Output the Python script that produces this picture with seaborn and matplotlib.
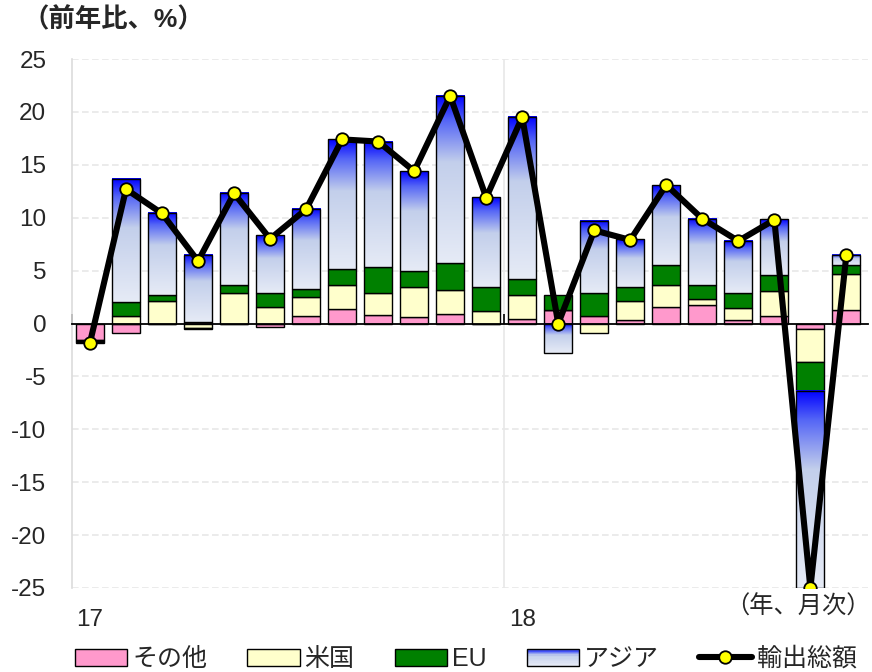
import numpy as np
import pandas as pd
import matplotlib
matplotlib.use("Agg")
import matplotlib.pyplot as plt
import seaborn as sns
from matplotlib.colors import LinearSegmentedColormap
from matplotlib.patches import Rectangle, Patch
from matplotlib.lines import Line2D
from matplotlib.legend_handler import HandlerBase

# ---- data ----
months = list(range(22))  # 2017-01 .. 2018-10
year_labels = ["17", "18"]
year_pos = [0, 12]
other = [-1.6, -0.88, 0.0, 0.1, 0.0, -0.3, 0.75, 1.35, 0.8, 0.57, 0.92, 0.0,
         0.38, 1.32, 0.75, 0.35, 1.57, 1.72, 0.35, 0.75, -0.5, 1.29]
us = [-0.1, 0.75, 2.1, -0.4, 2.87, 1.57, 1.73, 2.27, 2.07, 2.87, 2.29, 1.16,
      2.27, 0.0, -0.88, 1.82, 2.03, 0.57, 1.16, 2.3, -3.1, 3.4]
eu = [-0.05, 1.25, 0.55, -0.15, 0.73, 1.36, 0.76, 1.55, 2.46, 1.51, 2.49, 2.28,
      1.51, 1.38, 2.15, 1.27, 1.95, 1.31, 1.36, 1.49, -2.74, 0.85]
asia = [-0.05, 11.67, 7.81, 6.34, 8.73, 5.48, 7.6, 12.23, 11.87, 9.45, 15.85, 8.48,
        15.34, -2.77, 6.82, 4.5, 7.51, 6.28, 4.93, 5.29, -18.65, 0.98]
total = [-1.8, 12.7, 10.4, 5.9, 12.3, 8.0, 10.8, 17.4, 17.2, 14.4, 21.5, 11.9,
         19.5, 0.0, 8.8, 7.9, 13.1, 9.9, 7.8, 9.8, -25.0, 6.5]
series_names = ["その他", "米国", "EU", "アジア"]
line_name = "輸出総額"
yticks = [-25, -20, -15, -10, -5, 0, 5, 10, 15, 20, 25]

sns.set_theme(style="white")
plt.rcParams["font.family"] = ["Liberation Sans", "Noto Sans CJK JP", "DejaVu Sans"]
plt.rcParams["axes.unicode_minus"] = False

fig = plt.figure(figsize=(8.72, 6.72), dpi=100)
ax = fig.add_axes([72 / 872, 84 / 672, 796 / 872, 529 / 672])

cmap = LinearSegmentedColormap.from_list(
    "asia", [(0.0, "#e6ebf6"), (0.6, "#c3cfeb"), (0.85, "#5566f6"), (1.0, "#0000ff")])
colors = ["#ff99cc", "#ffffcc", "#008000", None]
width = 0.78
edge_lw = 1.0

pos_base = np.zeros(len(months))
neg_base = np.zeros(len(months))
grad = np.linspace(0, 1, 256).reshape(-1, 1)
for k, vals in enumerate([other, us, eu, asia]):
    vals = np.array(vals, dtype=float)
    bottoms = np.where(vals >= 0, pos_base, neg_base + vals)
    heights = np.abs(vals)
    if colors[k] is not None:
        ax.bar(months, heights, bottom=bottoms, width=width, color=colors[k],
               edgecolor="black", linewidth=edge_lw, zorder=3)
    else:
        for x, b, h in zip(months, bottoms, heights):
            if h <= 0:
                continue
            ax.imshow(grad, extent=[x - width / 2, x + width / 2, b, b + h],
                      origin="lower", cmap=cmap, aspect="auto", zorder=3,
                      interpolation="bilinear")
        ax.bar(months, heights, bottom=bottoms, width=width, facecolor="none",
               edgecolor="black", linewidth=edge_lw, zorder=3.5)
    pos_base = pos_base + np.where(vals >= 0, vals, 0)
    neg_base = neg_base + np.where(vals < 0, vals, 0)

df = pd.DataFrame({"month": months, "total": total})
sns.lineplot(data=df, x="month", y="total", ax=ax, color="black", linewidth=4.4,
             marker="o", markersize=9, markerfacecolor="#ffff00",
             markeredgecolor="black", markeredgewidth=1.3, zorder=5)

ax.set_xlim(-0.5, 21.6)
ax.set_ylim(-25, 25)
ax.set_yticks(yticks)
ax.set_yticklabels([str(v) for v in yticks], fontsize=17.5)
ax.tick_params(axis="y", length=0, pad=18.5)
for y in yticks:
    if y != 0:
        ax.axhline(y, color="#e8e8e8", linewidth=1.2, linestyle=(0, (4, 2)), zorder=0)
ax.axvline(11.5, color="#e8e8e8", linewidth=1.2, zorder=0)

for s in ["top", "right"]:
    ax.spines[s].set_visible(False)
ax.spines["left"].set_color("#dcdcdc")
ax.spines["left"].set_linewidth(1.2)
ax.spines["bottom"].set_position(("data", 0))
ax.spines["bottom"].set_color("black")
ax.spines["bottom"].set_linewidth(1.3)
ax.spines["bottom"].set_zorder(4)
ax.set_xticks([-0.5, 11.5])
ax.set_xticklabels(["", ""])
ax.tick_params(axis="x", direction="in", length=7, width=1.2, color="black", bottom=True)
ax.set_xlabel("")
ax.set_ylabel("")

trans = matplotlib.transforms.blended_transform_factory(ax.transData, ax.transAxes)
for p, lab in zip(year_pos, year_labels):
    ax.text(p, -0.061, lab, transform=trans, ha="center", va="center", fontsize=17.5)

fig.text(22 / 872, 1 - 20 / 672, "（前年比、%）", fontsize=19, ha="left", va="center",
         fontweight="bold")
fig.text(871 / 872, 1 - 607 / 672, "（年、月次）", fontsize=17.5, ha="right", va="center")


class GradHandler(HandlerBase):
    def create_artists(self, legend, orig_handle, xdescent, ydescent, width, height,
                       fontsize, trans):
        arts = []
        n = 12
        for i in range(n):
            r = Rectangle((-xdescent, -ydescent + height * i / n), width, height / n,
                          facecolor=cmap((i + 0.5) / n), edgecolor="none", transform=trans)
            arts.append(r)
        arts.append(Rectangle((-xdescent, -ydescent), width, height, facecolor="none",
                              edgecolor="black", linewidth=1.0, transform=trans))
        return arts


handles = [Patch(facecolor=colors[0], edgecolor="black", linewidth=1.0),
           Patch(facecolor=colors[1], edgecolor="black", linewidth=1.0),
           Patch(facecolor=colors[2], edgecolor="black", linewidth=1.0),
           Patch(facecolor="#c3cfeb", edgecolor="black", linewidth=1.0),
           Line2D([], [], color="black", linewidth=4.4, marker="o", markersize=9,
                  markerfacecolor="#ffff00", markeredgecolor="black", markeredgewidth=1.3)]
leg = fig.legend(handles, series_names + [line_name], loc="center",
                 bbox_to_anchor=(0.534, 1 - 659 / 672), ncol=5, frameon=False,
                 fontsize=18, handlelength=2.1, handleheight=0.65, handletextpad=0.2,
                 columnspacing=1.6, handler_map={handles[3]: GradHandler()})

fig.savefig("out.png", dpi=100)
